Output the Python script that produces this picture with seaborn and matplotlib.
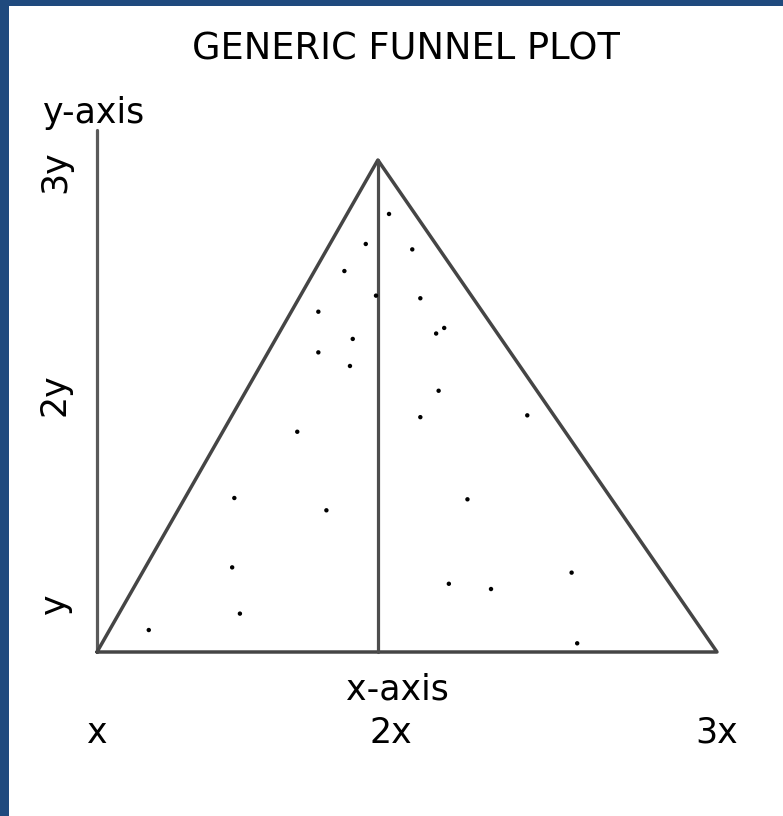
import matplotlib
matplotlib.use("Agg")
import matplotlib.pyplot as plt
import seaborn as sns
import pandas as pd
from matplotlib.patches import Rectangle

# ---------------- data ----------------
title = "GENERIC FUNNEL PLOT"
x_label = "x-axis"
y_label = "y-axis"

# study points (effect, precision) in "x" and "y" units
pt_x = [1.942, 1.867, 2.017, 1.798, 1.900, 2.043, 1.714, 2.120, 2.094, 1.825,
        1.714, 1.816, 2.102, 2.043, 2.388, 2.195, 2.531, 2.135, 2.271, 2.549,
        1.646, 1.443, 1.740, 1.436, 1.461, 1.167]
pt_y = [2.671, 2.488, 2.455, 2.323, 2.173, 2.157, 2.075, 1.976, 1.942, 1.909,
        1.827, 1.744, 1.593, 1.432, 1.443, 0.931, 0.484, 0.416, 0.384, 0.053,
        1.343, 0.939, 0.864, 0.516, 0.234, 0.134]

# funnel triangle (closed) and its centre line
funnel_x = [1.0, 1.906, 3.0, 1.0]
funnel_y = [0.0, 3.0, 0.0, 0.0]
center_x = [1.906, 1.906]
center_y = [0.0, 3.0]
# vertical y axis line
yaxis_x = [1.0, 1.0]
yaxis_y = [0.0, 3.183]

x_ticks = [1.0, 1.948, 3.0]
x_tick_labels = ["x", "2x", "3x"]
y_ticks = [0.293, 1.567, 2.927]
y_tick_labels = ["y", "2y", "3y"]

# ---------------- figure ----------------
sns.set_theme(style="white")
plt.rcParams["font.family"] = ["DejaVu Sans"]
plt.rcParams["text.color"] = "black"
plt.rcParams["xtick.color"] = "black"
plt.rcParams["ytick.color"] = "black"

W, H = 783, 816
fig = plt.figure(figsize=(W / 100, H / 100), dpi=100)
fig.patch.set_facecolor("white")

# dark blue frame on left and top
blue = "#1f4a7e"
fig.patches.append(Rectangle((0, 0), 9 / W, 1, transform=fig.transFigure,
                             facecolor=blue, edgecolor="none", zorder=0))
fig.patches.append(Rectangle((0, 1 - 6 / H), 1, 6 / H, transform=fig.transFigure,
                             facecolor=blue, edgecolor="none", zorder=0))

# axes box: x 97..717 px, y 130..652 px
ax = fig.add_axes([97 / W, 1 - 652 / H, 620 / W, 522 / H])
ax.set_xlim(1.0, 3.0)
ax.set_ylim(0.0, 3.183)
ax.set_facecolor("none")
for s in ax.spines.values():
    s.set_visible(False)

sns.lineplot(x=yaxis_x, y=yaxis_y, ax=ax, color="#5a5a5a", linewidth=2.3,
             sort=False, estimator=None, clip_on=False)
sns.lineplot(x=funnel_x, y=funnel_y, ax=ax, color="#454545", linewidth=2.5,
             sort=False, estimator=None, clip_on=False)
sns.lineplot(x=center_x, y=center_y, ax=ax, color="#4d4d4d", linewidth=2.3,
             sort=False, estimator=None, clip_on=False)

df = pd.DataFrame({"x": pt_x, "y": pt_y})
sns.scatterplot(data=df, x="x", y="y", ax=ax, color="black", s=10,
                edgecolor="none", clip_on=False, zorder=5)

ax.set_xlabel("")
ax.set_ylabel("")
ax.set_xticks(x_ticks)
ax.set_xticklabels(x_tick_labels, fontsize=25, color="black")
ax.set_yticks(y_ticks)
ax.set_yticklabels(y_tick_labels, fontsize=25, rotation=90, va="center",
                   color="black")
ax.tick_params(axis="x", length=0, pad=46)
ax.tick_params(axis="y", length=0, pad=18)

fig.text(406 / W, 1 - 60 / H, title, ha="center", va="baseline",
         fontsize=26.5, color="black")
fig.text(397 / W, 1 - 699 / H, x_label, ha="center", va="baseline",
         fontsize=25, color="black")
fig.text(94 / W, 1 - 123 / H, y_label, ha="center", va="baseline",
         fontsize=25, color="black")

fig.savefig("out.png", dpi=100, facecolor="white")
